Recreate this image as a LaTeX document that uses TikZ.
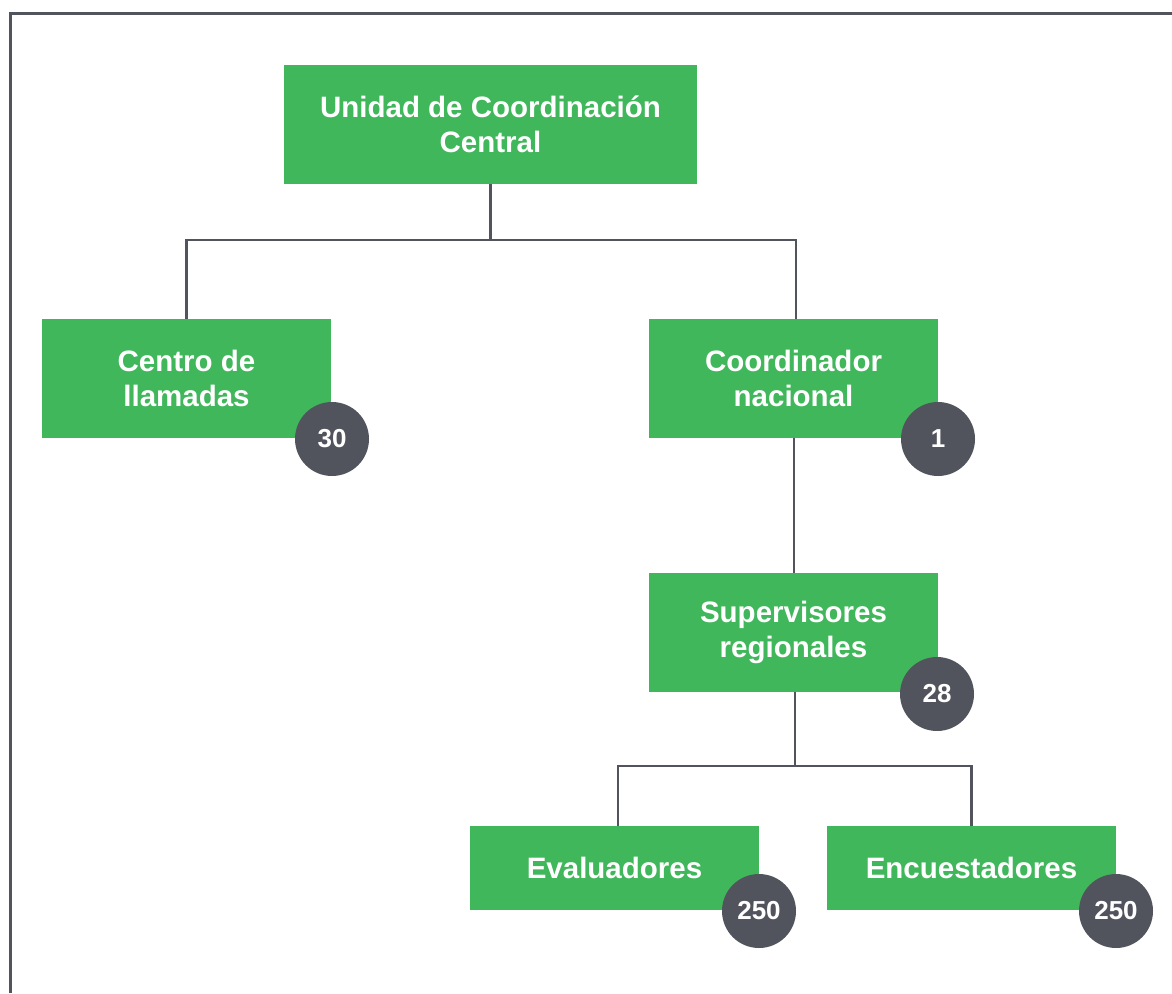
\documentclass[tikz,border=0pt]{standalone}
\usepackage{fontspec}
\setmainfont{Liberation Sans}
\definecolor{boxgreen}{HTML}{41B75C}
\definecolor{darkgray}{HTML}{51545D}
\begin{document}
\begin{tikzpicture}[x=1pt,y=-1pt,
  box/.style={fill=boxgreen,draw=none,text=white,align=center,inner sep=0pt,
    minimum width=289pt,font=\fontsize{29.5}{35}\selectfont\bfseries},
  badge/.style={circle,fill=darkgray,draw=none,text=white,inner sep=0pt,
    minimum size=74pt,font=\fontsize{26}{28}\selectfont\bfseries},
  link/.style={draw=darkgray,line width=2.6pt}]
\useasboundingbox (0,0) rectangle (1172,993);
\draw[draw=darkgray,line width=3pt] (10.5,993) -- (10.5,13.5) -- (1172,13.5);
% boxes
\node[box,minimum width=413pt,minimum height=119pt] (top) at (490.5,124.5) {Unidad de Coordinación\\Central};
\node[box,minimum height=119pt] (centro) at (186.5,378.5) {Centro de\\llamadas};
\node[box,minimum height=119pt] (coord) at (793.5,378.5) {Coordinador\\nacional};
\node[box,minimum height=119pt] (sup) at (793.5,632.5) {Supervisores\\regionales};
\node[box,minimum height=84pt] (eval) at (614.5,868) {Evaluadores};
\node[box,minimum height=84pt] (enc) at (971.5,868) {Encuestadores};
% connectors
\coordinate (j1) at (490.5,240);
\coordinate (j2) at (795,766);
\draw[link] (top.south) -- (j1);
\draw[link] (centro.north) |- (j1) -| ([xshift=2.5pt]coord.north);
\draw[link] ([xshift=0.5pt]coord.south) -- ([xshift=0.5pt]sup.north);
\draw[link] ([xshift=1.5pt]sup.south) -- (j2);
\draw[link] ([xshift=3.5pt]eval.north) |- (j2) -| (enc.north);
% badges
\node[badge] (b1) at (332,439) {30};
\node[badge] (b2) at (938,439) {1};
\node[badge] (b3) at (937,694) {28};
\node[badge] (b4) at (759,911) {250};
\node[badge] (b5) at (1116,911) {250};
\end{tikzpicture}
\end{document}
